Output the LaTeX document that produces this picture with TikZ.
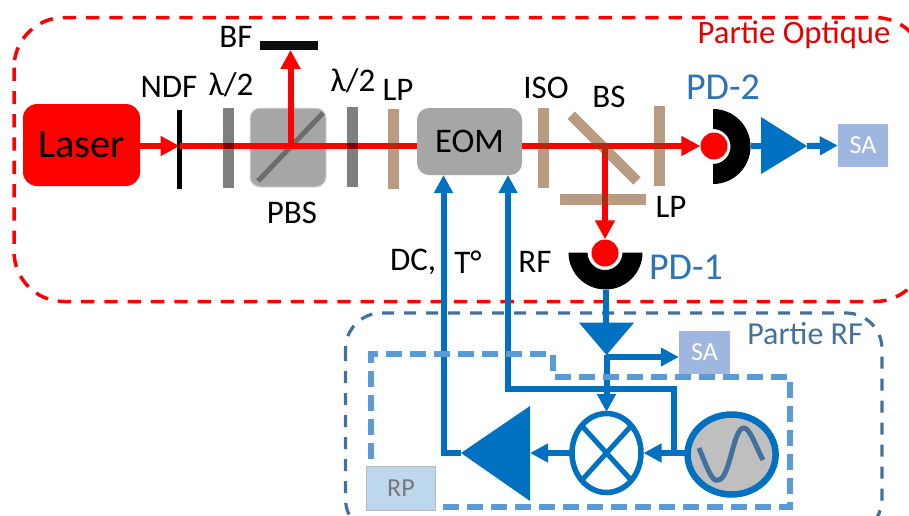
\documentclass[tikz,border=0pt]{standalone}
\usepackage{fontspec}
\setmainfont{Carlito}
\usetikzlibrary{arrows.meta}
\definecolor{blu}{HTML}{0070C0}
\definecolor{pdblue}{HTML}{2E74B5}
\definecolor{rfdark}{HTML}{41719C}
\definecolor{rpdash}{HTML}{5B9BD5}
\definecolor{sabox}{HTML}{9FB7E0}
\definecolor{rpbox}{HTML}{BDD7EE}
\definecolor{boxgray}{HTML}{A6A6A6}
\definecolor{lpbrown}{HTML}{7F461A}
\newcommand{\fs}[1]{\fontsize{#1}{#1}\selectfont}
\tikzset{
  x=1pt,y=-1pt,
  lbl/.style={inner sep=0pt,text=black,font=\fs{33}},
  pdlbl/.style={inner sep=0pt,text=pdblue,font=\fs{38}},
  box/.style={inner sep=0pt,rounded corners=12pt,fill=boxgray},
  hwp/.style={inner sep=0pt,minimum width=11pt,minimum height=80pt,fill=black,fill opacity=.5},
  lpplate/.style={inner sep=0pt,minimum width=11pt,minimum height=80pt,fill=lpbrown,fill opacity=.545},
  sabx/.style={inner sep=0pt,fill=sabox,text=white,font=\fs{26}},
  redbeam/.style={draw=red,line width=6pt},
  redarrow/.style={redbeam,-{Triangle[length=19pt,width=19pt]}},
  blueline/.style={draw=blu,line width=6pt},
  bluearrow/.style={blueline,-{Triangle[length=18pt,width=18pt]}},
  pdring/.style={fill=black,draw=none},
  spot/.style={circle,fill=red,inner sep=0pt,minimum size=27pt},
  amp/.style={fill=blu,draw=none},
}
\begin{document}
\begin{tikzpicture}
\useasboundingbox (0,0) rectangle (909,515);
\clip (0,0) rectangle (909,515);
\fill[white] (0,0) rectangle (909,515);
% enclosures
\draw[red,line width=3.5pt,dash pattern=on 13.3pt off 10pt,rounded corners=50pt] (14,17.5) rectangle (925,301.5);
\draw[rfdark,line width=3.2pt,dash pattern=on 12pt off 10pt,rounded corners=36pt] (345.5,313) rectangle (882,535);
% optical parts
\node[inner sep=0pt,rounded corners=14pt,fill=red,minimum width=117pt,minimum height=82pt,text=black,font=\fs{40.5}] (laser) at (81.5,145) {\raisebox{-2pt}{Laser}};
\node[inner sep=0pt,minimum width=5.5pt,minimum height=79pt,fill=black] (ndf) at (179.5,149.5) {};
\node[inner sep=0pt,rounded corners=10pt,fill=boxgray,draw=white!85!black,line width=1pt,minimum width=76pt,minimum height=79pt] (pbs) at (288,147.5) {};
\draw[gray!85!black,line width=5pt] (258,181) -- (323,113);
\node[inner sep=0pt,minimum width=58pt,minimum height=8.5pt,fill=black!95] (bf) at (289,45.5) {};
\node[box,minimum width=105pt,minimum height=67pt,font=\fs{34.5}] (eom) at (469.5,141.5) {\raisebox{-2pt}{EOM}};
\coordinate (pbscentre) at (290.5,146);
\coordinate (bsc) at (605,146);
% beams
\draw[redarrow] (laser.east |- pbscentre) -- (ndf.center |- pbscentre);
\draw[redbeam] (ndf.center |- pbscentre) -- (eom.west |- pbscentre);
\draw[redarrow] (pbscentre) -- (pbscentre |- bf.south);
\draw[redbeam] (eom.east |- bsc) -- (bsc);
% detectors
\fill[pdring] (713,109) arc[start angle=90,end angle=-90,radius=37.5pt] -- (713,164) arc[start angle=-90,end angle=90,radius=17.5pt] -- cycle;
\fill[pdring] (568.5,252.5) arc[start angle=180,end angle=360,radius=37pt] -- (622.5,252.5) arc[start angle=360,end angle=180,radius=17.5pt] -- cycle;
\node[spot] (spot2) at (714,146) {};
\node[spot] (spot1) at (605,253) {};
\draw[redarrow] (bsc) -- (spot2.west);
\draw[redarrow] (bsc) -- (spot1.north);
% plates
\node[hwp] (hwpa) at (228.5,148) {};
\node[hwp] (hwpb) at (352.5,147) {};
\node[lpplate] (lpa) at (393.5,149) {};
\node[lpplate] (iso) at (543.5,148) {};
\node[lpplate,rotate=-45,minimum width=93pt,minimum height=10.5pt] (bs) at (604,148) {};
\node[lpplate] (lpb) at (659,146) {};
\node[lpplate,minimum width=86pt,minimum height=11pt] (lpc) at (603,199.5) {};
% PD-2 chain
\coordinate (ampa) at (807,146);
\fill[amp] (761,117) -- (ampa) -- (761,174) -- cycle;
\node[sabx,minimum width=50pt,minimum height=43pt] (sa2) at (863,145.5) {SA};
\draw[blueline] (751,146) -- (765,146);
\draw[bluearrow] (ampa) -- (sa2.west);
% RF part
\coordinate (ampb) at (606.5,355);
\coordinate (sajoin) at (606.5,357);
\coordinate (ampc) at (461,453);
\node[sabx,minimum width=51pt,minimum height=43pt] (sa1) at (704.5,352.5) {SA};
\fill[amp] (579,322.7) -- (634,322.7) -- (ampb) -- cycle;
\fill[amp] (ampc) -- (530,406) -- (530,501) -- cycle;
\draw[blueline] (606,290) -- (606,325);
\draw[bluearrow] (sajoin) -- (sajoin -| sa1.west);
\draw[bluearrow] (ampb) -- (606.5,412);
\draw[blu,line width=5.5pt,fill=white] (606.5,453) ellipse[x radius=34.5pt,y radius=39.5pt];
\draw[blu,line width=5pt] (582,426) -- (631,480) (631,426) -- (582,480);
\draw[blu,line width=6.5pt,fill=gray!50] (731.6,454.5) ellipse[x radius=44pt,y radius=40pt];
\draw[rfdark,line width=5pt] (699,448) .. controls (708,470) and (712,482) .. (718,480) .. controls (730,480) and (733,428) .. (743.6,428) .. controls (750,428) and (755,445) .. (763,460);
\coordinate (tap) at (673.5,453);
\draw[bluearrow] (687,453) -- (643.5,453);
\draw[blueline,line join=miter] (tap) -- (673.5,389) -- (508,389) -- (508,200);
\draw[bluearrow] (508,389) -- (508,175);
\draw[bluearrow,line join=miter] (ampc) -- (443.5,453) -- (443.5,175);
\draw[bluearrow] (571,453) -- (530,453);
% RP outline
\draw[rpdash,line width=6pt,dash pattern=on 16pt off 8pt,line join=miter] (371,507) -- (371,354) -- (553,354) -- (553,377) -- (790,377) -- (790,507) -- cycle;
\node[inner sep=0pt,fill=rpbox,draw=gray!55,line width=.6pt,minimum width=69pt,minimum height=44pt,text=gray!95!black,font=\fs{26}] (rp) at (401,488) {\raisebox{-2pt}{RP}};
% labels
\node[lbl] (tndf) at (169,87) {NDF};
\node[lbl] (thwpa) at (231,85) {λ/2};
\node[lbl] (tbf) at (236,37) {BF};
\node[lbl] (tpbs) at (292,213) {PBS};
\node[lbl] (thwpb) at (353,81) {λ/2};
\node[lbl] (tlpa) at (398,90) {LP};
\node[lbl] (tiso) at (546,88) {ISO};
\node[lbl] (tbs) at (609,97) {BS};
\node[lbl] (tlpb) at (671,207) {LP};
\node[pdlbl] (tpdb) at (723,87) {PD-2};
\node[pdlbl] (tpda) at (686,267) {PD-1};
\node[lbl] (tdc) at (413,262) {DC,};
\node[lbl] (tt) at (468,262) {T°};
\node[lbl] (trf) at (535,262) {RF};
\node[inner sep=0pt,text=red!90!black,font=\fs{32.7}] (topt) at (794,35) {Partie Optique};
\node[inner sep=0pt,text=rfdark,font=\fs{32}] (trfp) at (805,334) {Partie RF};
\end{tikzpicture}
\end{document}
